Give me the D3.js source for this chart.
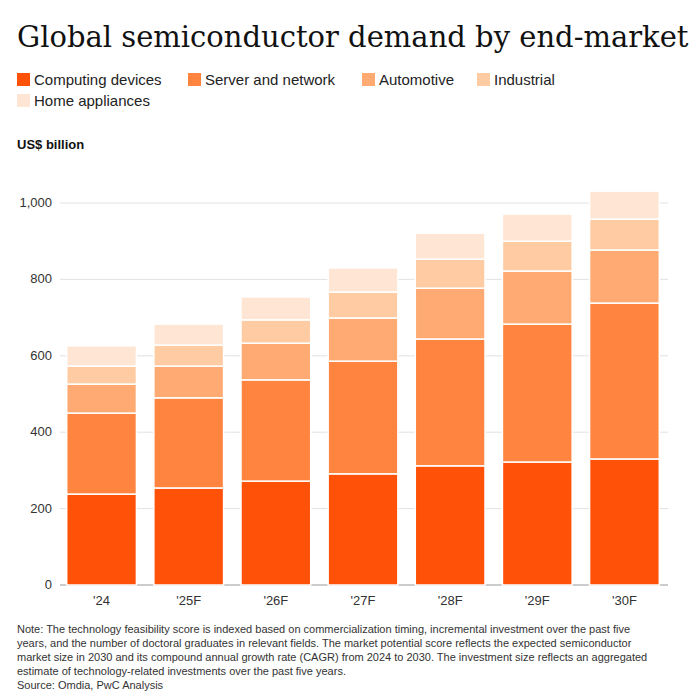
<!DOCTYPE html>
<html><head><meta charset="utf-8">
<script src="https://cdn.jsdelivr.net/npm/d3@7"></script>
<style>body{margin:0;background:#fff;font-family:"Liberation Sans",Arial,sans-serif;}</style>
</head><body><svg id="chart" width="695" height="697"></svg>
<script>
const years = ["'24", "'25F", "'26F", "'27F", "'28F", "'29F", "'30F"];
const seriesNames = ["Computing devices", "Server and network", "Automotive", "Industrial", "Home appliances"];
const computing = [238, 254, 272, 291, 312, 322, 330];
const server = [212, 236, 265, 295, 332, 361, 408];
const automotive = [76, 83, 96, 113, 133, 139, 139];
const industrial = [47, 55, 61, 68, 76, 78, 81];
const home = [53, 55, 60, 63, 68, 71, 73];
const colors = ["#ff5108", "#ff843f", "#ffaa72", "#ffcba2", "#ffe5d3"];
const yTicks = [0, 200, 400, 600, 800, 1000];

const svg = d3.select("#chart");
svg.append("text").attr("x", 17).attr("y", 47)
  .style("font", "29px 'DejaVu Serif', 'Liberation Serif', serif").attr("fill", "#111")
  .text("Global semiconductor demand by end-market");

// legend
const legendPos = [[17, 80], [188, 80], [362, 80], [477, 80], [17, 101]];
seriesNames.forEach((n, i) => {
  const g = svg.append("g").attr("transform", `translate(${legendPos[i][0]},${legendPos[i][1]})`);
  g.append("rect").attr("y", -7).attr("width", 13).attr("height", 13).attr("fill", colors[i]);
  g.append("text").attr("x", 17).attr("y", 5).style("font-size", "15px").attr("fill", "#222").text(n);
});

svg.append("text").attr("x", 17).attr("y", 149).style("font-size", "13px").style("font-weight", "bold")
  .attr("fill", "#111").text("US$ billion");

const x = d3.scaleBand().domain(years).range([58, 668]).paddingInner(0.2).paddingOuter(0.1);
const y = d3.scaleLinear().domain([0, 1000]).range([585, 203]);

const grid = svg.append("g");
yTicks.forEach(t => {
  grid.append("line").attr("x1", 60).attr("x2", 668).attr("y1", y(t)).attr("y2", y(t))
    .attr("stroke", t === 0 ? "#999" : "#e2e2e2");
  grid.append("text").attr("x", 52).attr("y", y(t) + 4).attr("text-anchor", "end")
    .style("font-size", "13px").attr("fill", "#333").text(d3.format(",")(t));
});

const rows = years.map((yr, i) => ({year: yr, c: computing[i], s: server[i], a: automotive[i], ind: industrial[i], h: home[i]}));
const stack = d3.stack().keys(["c", "s", "a", "ind", "h"])(rows);

svg.append("g").selectAll("g").data(stack).join("g").attr("fill", (d, i) => colors[i])
  .selectAll("rect").data(d => d).join("rect")
  .attr("x", d => x(d.data.year)).attr("width", x.bandwidth())
  .attr("y", d => y(d[1])).attr("height", d => y(d[0]) - y(d[1]))
  .attr("stroke", "#fff").attr("stroke-width", 1.5);

svg.append("g").selectAll("text").data(years).join("text")
  .attr("x", d => x(d) + x.bandwidth() / 2).attr("y", 605).attr("text-anchor", "middle")
  .style("font-size", "13px").attr("fill", "#333").text(d => d);

const note = [
  "Note: The technology feasibility score is indexed based on commercialization timing, incremental investment over the past five",
  "years, and the number of doctoral graduates in relevant fields. The market potential score reflects the expected semiconductor",
  "market size in 2030 and its compound annual growth rate (CAGR) from 2024 to 2030. The investment size reflects an aggregated",
  "estimate of technology-related investments over the past five years.",
  "Source: Omdia, PwC Analysis"
];
svg.append("g").selectAll("text").data(note).join("text")
  .attr("x", 17).attr("y", (d, i) => 633 + i * 14)
  .style("font-size", "11px").attr("fill", "#333").text(d => d);
</script></body></html>
